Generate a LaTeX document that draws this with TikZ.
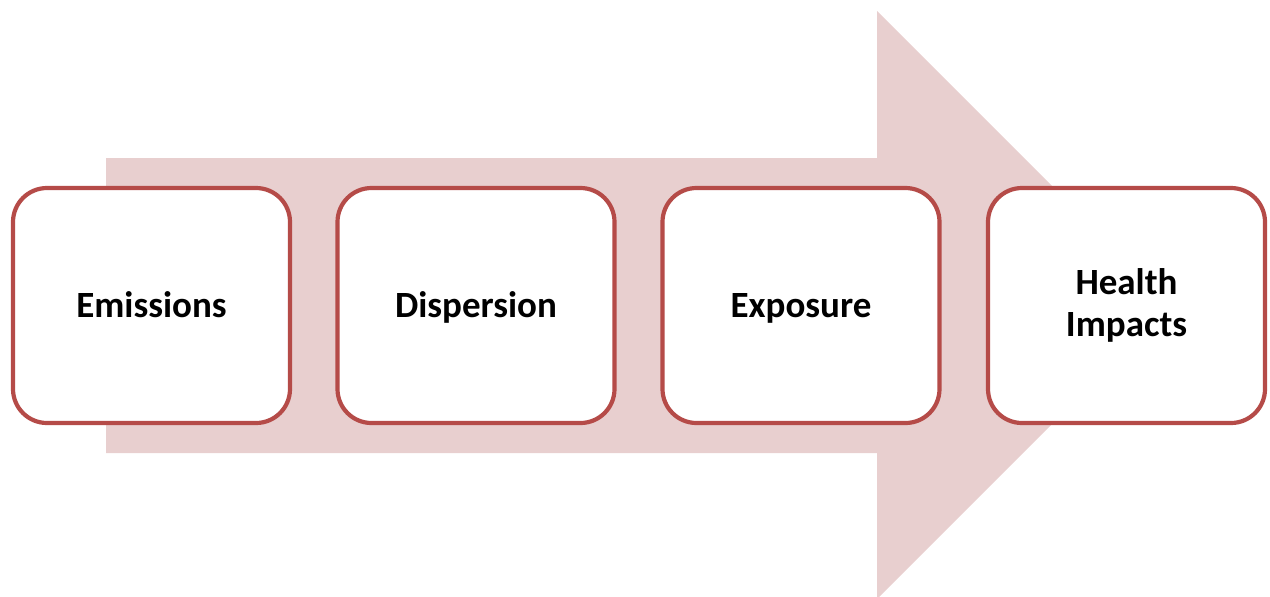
\documentclass[tikz,border=0pt]{standalone}
\usepackage{fontspec}
\setmainfont{Carlito}
\definecolor{boxred}{HTML}{B54B48}
\definecolor{arrowpink}{HTML}{E8CFCF}
\begin{document}
\begin{tikzpicture}[x=0.5pt,y=-0.5pt,
  stagebox/.style={draw=boxred, line width=2.1pt, fill=white, rounded corners=17pt,
    minimum width=138.5pt, minimum height=117.5pt, inner sep=0pt, align=center,
    font=\fontsize{18.5pt}{21pt}\selectfont\bfseries},
  oneline/.style={text height=11.9pt, text depth=0pt},
  bigarrow/.style={fill=arrowpink, draw=none}]
\useasboundingbox (0,0) rectangle (1270,596);
\begin{scope}
\clip (0,0) rectangle (1270,596);
\fill[bigarrow] (106,158) -- (877,158) -- (877,11) -- (1171,305) -- (877,599) -- (877,453) -- (106,453) -- cycle;
\end{scope}
\node[stagebox, oneline] (emis) at (151.5,305.5) {Emissions};
\node[stagebox, oneline] (disp) at (476,305.5) {Dispersion};
\node[stagebox, oneline] (expo) at (801,305.5) {Exposure};
\node[stagebox] (health) at (1126.5,305.5) {Health\\Impacts};
\end{tikzpicture}
\end{document}
